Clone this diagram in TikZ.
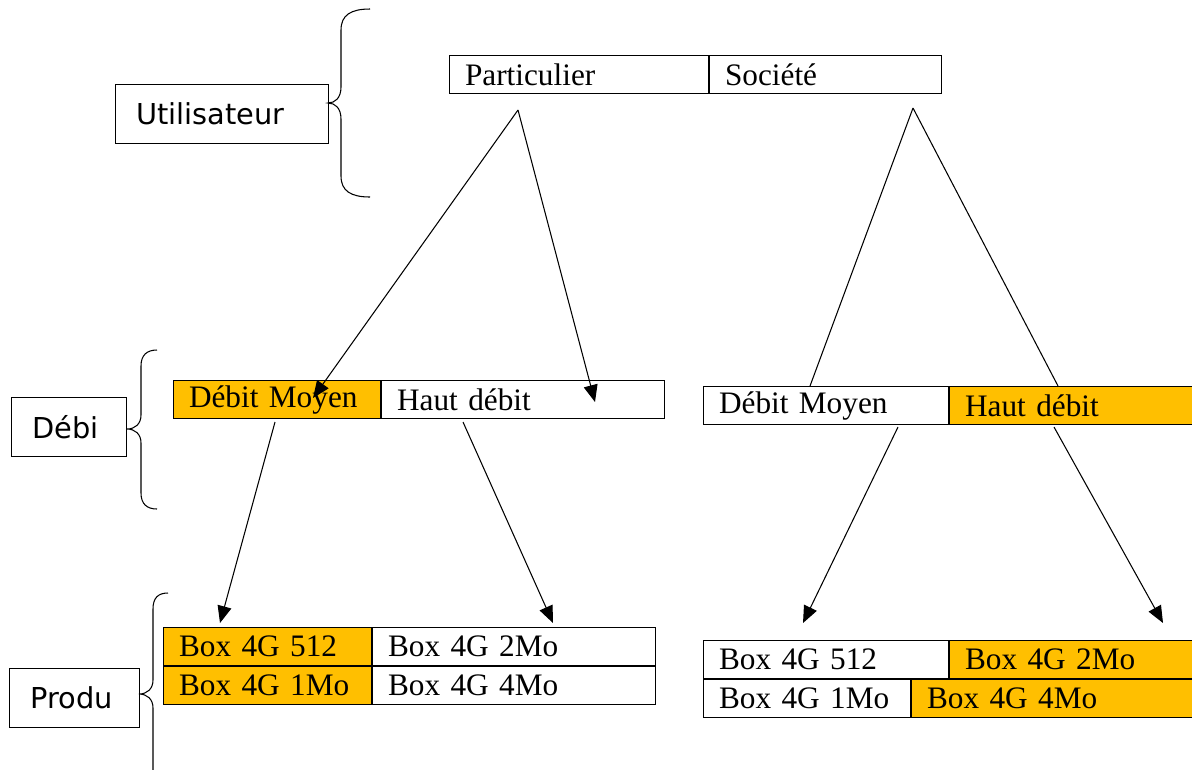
\documentclass[tikz,border=0pt]{standalone}
\usepackage{fontspec}
\setmainfont{Liberation Serif}
\newfontfamily\labelfont{DejaVu Sans}
\usetikzlibrary{arrows.meta}
\definecolor{boxorange}{RGB}{255,191,0}

\tikzset{
	cell/.style={draw, line width=0.6pt, anchor=north west, inner xsep=0.31cm, inner ysep=0pt,
		minimum height=0.76cm, text width=#1, font=\fontsize{17.8}{21}\selectfont},
	hot/.style={fill=boxorange},
	levelbox/.style={draw, line width=0.6pt, anchor=north west, inner xsep=0.42cm, inner ysep=0pt,
		minimum height=1.18cm, text width=#1, font=\labelfont\fontsize{16.4}{19}\selectfont},
	link/.style={line width=0.6pt},
	arr/.style={link, -{Triangle[length=3.4mm,width=2.8mm]}},
	curly/.style={line width=0.6pt}
}

\begin{document}
\begin{tikzpicture}[x=0.02cm, y=-0.02cm]
		\useasboundingbox (0,0) rectangle (1192,769);
		\clip (0,0) rectangle (1192,769);
		
		% niveaux
		\node[levelbox=3.42cm] (user) at (115,84) {Utilisateur};
		\node[levelbox=1.46cm] (debi) at (11,397) {Débi};
		\node[levelbox=1.76cm] (produ) at (9,668) {Produ};
		
		% accolades
		\draw[curly] (370,9) .. controls (351,9) and (341,15) .. (341,30)
			-- (341,87) .. controls (341,98) and (335,103) .. (328,103)
			.. controls (335,103) and (341,108) .. (341,119)
			-- (341,176) .. controls (341,191) and (351,197) .. (370,197);
		\draw[curly] (157,350) .. controls (147,350) and (141,355) .. (141,366)
			-- (141,415) .. controls (141,424) and (135,429) .. (127,429)
			.. controls (135,429) and (141,434) .. (141,443)
			-- (141,493) .. controls (141,504) and (147,509) .. (157,509);
		\draw[curly] (168,593) .. controls (158,593) and (153,598) .. (153,609)
			-- (153,680) .. controls (153,689) and (147,694) .. (139,694)
			.. controls (147,694) and (153,699) .. (153,708)
			-- (153,790);
		
		% utilisateurs
		\node[cell=4.56cm] (part) at (449,55) {Particulier};
		\node[cell=4.02cm] (soc) at (part.north east) {Société};
		
		% debits
		\node[cell=3.52cm, hot] (pmoy) at (173,380) {Débit Moyen};
		\node[cell=5.04cm] (phaut) at (pmoy.north east) {Haut débit};
		
		\node[cell=4.28cm] (smoy) at (703,386) {Débit Moyen};
		\node[cell=4.58cm, hot] (shaut) at (smoy.north east) {Haut débit};
		
		% produits
		\node[cell=3.54cm, hot] (p512) at (163,627) {Box 4G 512};
		\node[cell=5.04cm] (p2mo) at (p512.north east) {Box 4G 2Mo};
		\node[cell=3.54cm, hot] (p1mo) at (p512.south west) {Box 4G 1Mo};
		\node[cell=5.04cm] (p4mo) at (p1mo.north east) {Box 4G 4Mo};
		
		\node[cell=4.28cm] (s512) at (703,640) {Box 4G 512};
		\node[cell=4.42cm, hot] (s2mo) at (s512.north east) {Box 4G 2Mo};
		\node[cell=3.52cm] (s1mo) at (s512.south west) {Box 4G 1Mo};
		\node[cell=5.18cm, hot] (s4mo) at (s1mo.north east) {Box 4G 4Mo};
		
		% points des fleches
		\coordinate (pfork) at (518,110);
		\coordinate (sfork) at (913,108);
		\coordinate (pmoytip) at (313,398);
		\coordinate (phauttip) at (595,402);
		\coordinate (smoytip) at (810,386);
		\coordinate (shauttip) at (1058,386);
		
		\coordinate (pmoyfoot) at (275,422);
		\coordinate (phautfoot) at (463,422);
		\coordinate (smoyfoot) at (898,427);
		\coordinate (shautfoot) at (1054,427);
		\coordinate (p512tip) at (220,623);
		\coordinate (p2motip) at (553,623);
		\coordinate (s512tip) at (803,623);
		\coordinate (s2motip) at (1163,623);
		
		\draw[arr] (pfork) -- (pmoytip);
		\draw[arr] (pfork) -- (phauttip);
		\draw[link] (sfork) -- (smoytip);
		\draw[link] (sfork) -- (shauttip);
		
		\draw[arr] (pmoyfoot) -- (p512tip);
		\draw[arr] (phautfoot) -- (p2motip);
		\draw[arr] (smoyfoot) -- (s512tip);
		\draw[arr] (shautfoot) -- (s2motip);
		
	\end{tikzpicture}
\end{document}
